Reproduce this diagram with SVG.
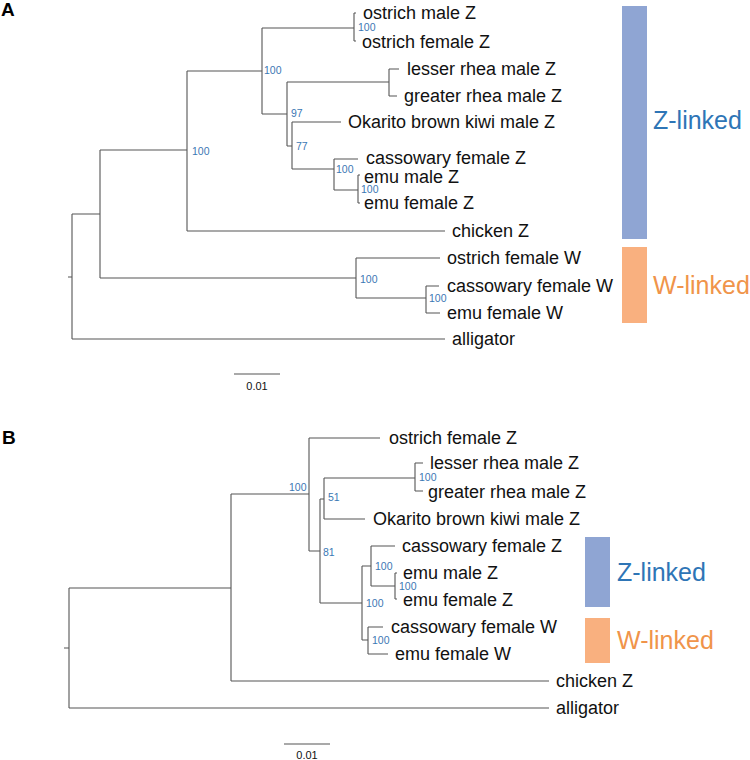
<svg xmlns="http://www.w3.org/2000/svg" width="750" height="760" viewBox="0 0 750 760">
<style>
.br{fill:none;stroke:#555;stroke-width:1.1}
.lf{font-family:"Liberation Sans",Arial,sans-serif;font-size:18px;fill:#111}
.bs{font-family:"Liberation Sans",Arial,sans-serif;font-size:10.5px;fill:#3b78b4}
.pl{font-family:"Liberation Sans",Arial,sans-serif;font-size:19px;font-weight:bold;fill:#000}
.zl{font-family:"Liberation Sans",Arial,sans-serif;font-size:25px;fill:#2e75b6}
.wl{font-family:"Liberation Sans",Arial,sans-serif;font-size:25px;fill:#f0944a}
.sc{font-family:"Liberation Sans",Arial,sans-serif;font-size:11px;fill:#111}
.zb{fill:#8fa5d3}
.wb{fill:#f9b07f}
</style>
<rect width="750" height="760" fill="#fff"/>
<g id="connectors">
<path class="br" d="M68 277H72M72 214V339M72 339H445M72 214H100M100 150V278M100 278H356M356 258V298M356 258H440M356 298H426M426 286V313M426 286H439M426 313H440M100 150H187M187 71V231M187 231H445M187 71H262M262 28V114M262 28H354M354 13V41M354 13H356M354 41H356M262 114H287M287 82V146M287 82H389M389 69V96M389 69H399M389 96H397M287 146H292M292 122V169M292 122H341M292 169H334M334 159V190M334 159H358M334 190H358M358 175V203M358 175H360M358 203H360"/>
<path class="br" d="M64 648H69M69 588V708M69 708H549M69 588H231M231 494V681M231 681H549M231 494H309M309 438V551M309 438H380M309 551H320M320 499V603M320 499H324M324 478V519M324 478H415M415 463V491M415 463H423M415 491H423M324 519H365M320 603H362M362 566V640M362 566H371M371 546V586M371 546H395M371 586H395M395 573V599M395 573H397M395 599H397M362 640H368M368 627V654M368 627H383M368 654H388"/>
<path class="br" d="M234 374H280M284 744H330"/>
</g>
<g id="panelA">
<text class="pl" x="1" y="16">A</text>
<g id="a-ostrich-male-Z"><text class="lf" x="363" y="19">ostrich male Z</text></g>
<g id="a-ostrich-female-Z"><text class="lf" x="362" y="48">ostrich female Z</text></g>
<g id="a-lesser-rhea"><text class="lf" x="407" y="75">lesser rhea male Z</text></g>
<g id="a-greater-rhea"><text class="lf" x="404" y="102">greater rhea male Z</text></g>
<g id="a-kiwi"><text class="lf" x="348" y="128">Okarito brown kiwi male Z</text></g>
<g id="a-cassowary-female-Z"><text class="lf" x="366" y="164">cassowary female Z</text></g>
<g id="a-emu-male-Z"><text class="lf" x="364" y="183">emu male Z</text></g>
<g id="a-emu-female-Z"><text class="lf" x="364" y="209">emu female Z</text></g>
<g id="a-chicken"><text class="lf" x="452" y="237">chicken Z</text></g>
<g id="a-ostrich-female-W"><text class="lf" x="447" y="264">ostrich female W</text></g>
<g id="a-cassowary-female-W"><text class="lf" x="447" y="292">cassowary female W</text></g>
<g id="a-emu-female-W"><text class="lf" x="447" y="319">emu female W</text></g>
<g id="a-alligator"><text class="lf" x="452" y="345">alligator</text></g>
<g id="a-boot">
<text class="bs" x="192" y="155">100</text>
<text class="bs" x="264" y="74">100</text>
<text class="bs" x="358" y="31">100</text>
<text class="bs" x="291" y="117">97</text>
<text class="bs" x="296" y="150">77</text>
<text class="bs" x="336" y="173">100</text>
<text class="bs" x="361" y="193">100</text>
<text class="bs" x="360" y="283">100</text>
<text class="bs" x="429" y="302">100</text>
</g>
<g id="a-zbar"><rect class="zb" x="622" y="6" width="25" height="233"/><text class="zl" x="653" y="129">Z-linked</text></g>
<g id="a-wbar"><rect class="wb" x="622" y="247" width="25" height="76"/><text class="wl" x="653" y="294">W-linked</text></g>
<g id="a-scale"><text class="sc" x="257" y="390" text-anchor="middle">0.01</text></g>
</g>
<g id="panelB">
<text class="pl" x="2" y="444">B</text>
<g id="b-ostrich-female-Z"><text class="lf" x="389" y="444">ostrich female Z</text></g>
<g id="b-lesser-rhea"><text class="lf" x="430" y="469">lesser rhea male Z</text></g>
<g id="b-greater-rhea"><text class="lf" x="428" y="498">greater rhea male Z</text></g>
<g id="b-kiwi"><text class="lf" x="373" y="525">Okarito brown kiwi male Z</text></g>
<g id="b-cassowary-female-Z"><text class="lf" x="402" y="552">cassowary female Z</text></g>
<g id="b-emu-male-Z"><text class="lf" x="403" y="579">emu male Z</text></g>
<g id="b-emu-female-Z"><text class="lf" x="403" y="606">emu female Z</text></g>
<g id="b-cassowary-female-W"><text class="lf" x="391" y="633">cassowary female W</text></g>
<g id="b-emu-female-W"><text class="lf" x="395" y="660">emu female W</text></g>
<g id="b-chicken"><text class="lf" x="556" y="687">chicken Z</text></g>
<g id="b-alligator"><text class="lf" x="556" y="714">alligator</text></g>
<g id="b-boot">
<text class="bs" x="289" y="491">100</text>
<text class="bs" x="328" y="501">51</text>
<text class="bs" x="419" y="481">100</text>
<text class="bs" x="323" y="556">81</text>
<text class="bs" x="375" y="570">100</text>
<text class="bs" x="399" y="590">100</text>
<text class="bs" x="366" y="607">100</text>
<text class="bs" x="372" y="644">100</text>
</g>
<g id="b-zbar"><rect class="zb" x="585" y="537" width="25" height="70"/><text class="zl" x="617" y="581">Z-linked</text></g>
<g id="b-wbar"><rect class="wb" x="585" y="618" width="25" height="45"/><text class="wl" x="617" y="649">W-linked</text></g>
<g id="b-scale"><text class="sc" x="307" y="759" text-anchor="middle">0.01</text></g>
</g>
</svg>
